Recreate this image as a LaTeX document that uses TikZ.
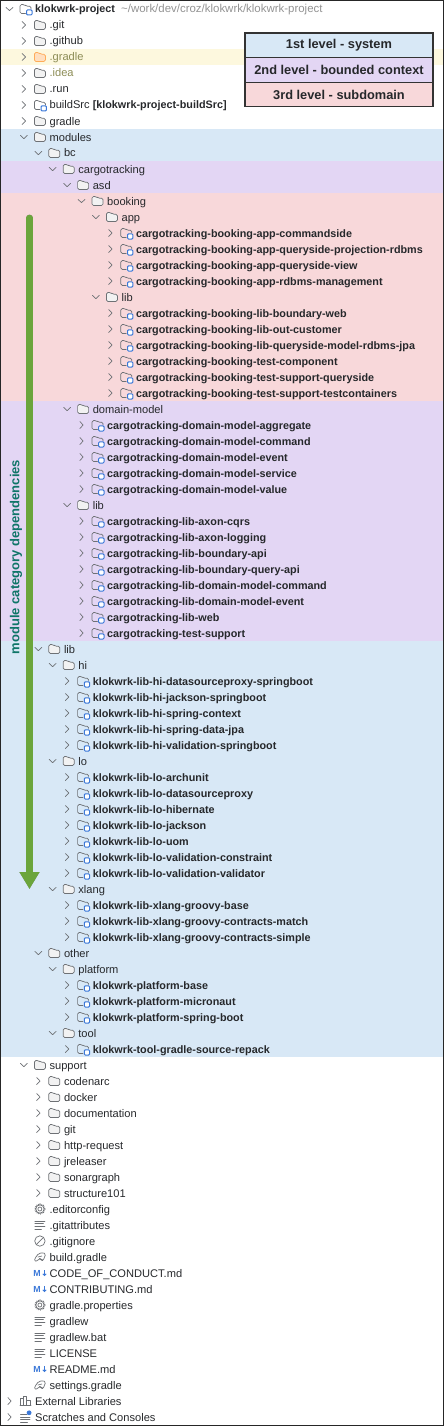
\documentclass[tikz,border=0pt]{standalone}
\usepackage{fontspec}
\setmainfont{Liberation Sans}
\usetikzlibrary{arrows.meta}
\definecolor{sysblue}{HTML}{D8E8F6}
\definecolor{bcpurple}{HTML}{E3D6F4}
\definecolor{subpink}{HTML}{F8D8DA}
\definecolor{ignyellow}{HTML}{FDF8DE}
\definecolor{inktext}{HTML}{26282B}
\definecolor{inkicon}{HTML}{6E7175}
\definecolor{badgeblue}{HTML}{3B78D8}
\definecolor{olive}{HTML}{8C8C55}
\definecolor{arrowgreen}{HTML}{6BA53B}
\definecolor{labelteal}{HTML}{0E7568}

\tikzset{
  rowplain/.style={anchor=base west, inner sep=0pt, text=inktext, font=\fontsize{11.1}{13}\selectfont},
  rowbold/.style={rowplain, font=\fontsize{10.8}{13}\selectfont\bfseries},
  rowign/.style={rowplain, text=olive},
  rowdim/.style={rowplain, text=gray!85, font=\fontsize{11.45}{13}\selectfont},
  legendbox/.style={draw=black!80, line width=1.2pt, minimum width=188pt, minimum height=24.6pt,
    inner sep=0pt, font=\fontsize{12.8}{14}\selectfont\bfseries, text=inktext},
  iconline/.style={draw=inkicon, line width=0.7pt, line join=round, line cap=round},
  chev o/.pic={\draw [iconline] (-3.5,1.7) -- (0,-1.7) -- (3.5,1.7);},
  chev c/.pic={\draw [iconline] (-1.7,-3.5) -- (1.7,0) -- (-1.7,3.5);},
  chev n/.pic={},
  icon folder/.pic={
    \draw [iconline, fill=black!5, rounded corners=1.5pt]
      (-5.5,-4.5) -- (-5.5,4.5) -- (-1.2,4.5) -- (0.6,2.8) -- (5.5,2.8) -- (5.5,-4.5) -- cycle;},
  icon orange/.pic={
    \draw [iconline, draw=orange!65, fill=orange!25, rounded corners=1.5pt]
      (-5.5,-4.5) -- (-5.5,4.5) -- (-1.2,4.5) -- (0.6,2.8) -- (5.5,2.8) -- (5.5,-4.5) -- cycle;},
  icon module/.pic={
    \draw [iconline, rounded corners=1.5pt]
      (0,-4.5) -- (-5.5,-4.5) -- (-5.5,4.5) -- (-1.2,4.5) -- (0.6,2.8) -- (5.5,2.8) -- (5.5,0);
    \draw [draw=badgeblue, line width=1pt, fill=white, rounded corners=1pt] (1.2,-6) rectangle (6.5,-0.8);},
  icon gear/.pic={
    \draw [iconline, densely dotted, line width=1.6pt, line cap=butt] (0,0) circle (4.8);
    \draw [iconline] (0,0) circle (4.2);
    \draw [iconline] (0,0) circle (2);},
  icon lines/.pic={
    \draw [iconline] (-5,4) -- (5,4) (-5,1.3) -- (3.5,1.3) (-5,-1.3) -- (5,-1.3) (-5,-4) -- (1.5,-4);},
  icon ban/.pic={
    \draw [iconline] (0,0) circle (5.2);
    \draw [iconline] (-3.6,-3.6) -- (3.6,3.6);},
  icon gradle/.pic={
    \draw [iconline, rounded corners=1.5pt]
      (-6,-4) -- (-3.5,1) -- (-1,3.5) -- (3,4.5) -- (6,3) -- (4.5,0) -- (3.5,-3.5)
      -- (1.5,-3.5) -- (1,-1.5) -- (-1,-1.5) -- (-2,-4) -- cycle;
    \draw [iconline] (-2,0) -- (2,1);},
  icon md/.pic={
    \node [inner sep=0pt, text=badgeblue, font=\fontsize{8.8}{9}\selectfont\bfseries] (-tag) at (-2.8,0) {M};
    \draw [draw=badgeblue, line width=0.9pt, -{Straight Barb[length=1.6pt,width=3.4pt]}] (4.6,3) -- (4.6,-3);},
  icon lib/.pic={
    \draw [iconline] (-5.5,-4.5) -- (5.5,-4.5);
    \draw [iconline] (-5,-4.5) rectangle (-2,3) (-2,-4.5) rectangle (1,5) (1,-4.5) rectangle (5,0.5);},
  icon scratch/.pic={
    \draw [iconline] (-5,2.5) -- (1.5,2.5) (-5,0) -- (4.5,0) (-5,-2.5) -- (4.5,-2.5) (-5,-5) -- (2,-5);
    \fill [badgeblue] (3.6,4.2) circle (2.4);},
}

\begin{document}
\begin{tikzpicture}[x=1pt, y=-1pt, >=stealth]

\useasboundingbox (0,0) rectangle (444,1426);

% coloured levels
\fill [ignyellow] (0,49) rectangle (444,65);
\foreach \a/\b/\c in {129/161/sysblue,161/193/bcpurple,193/401/subpink,401/641/bcpurple,641/1057/sysblue}
  \fill [\c] (0,\a) rectangle (444,\b);

% project tree: depth/chevron/icon/style/text
\foreach \d/\c/\i/\s/\t [count=\y from 0] in {
  0/o/module/rowbold/{klokwrk-project},
  1/c/folder/rowplain/{.git},
  1/c/folder/rowplain/{.github},
  1/c/orange/rowign/{.gradle},
  1/c/folder/rowign/{.idea},
  1/c/folder/rowplain/{.run},
  1/c/module/rowplain/{buildSrc \fontsize{10.8}{13}\selectfont\bfseries [klokwrk-project-buildSrc]},
  1/c/folder/rowplain/{gradle},
  1/o/folder/rowplain/{modules},
  2/o/folder/rowplain/{bc},
  3/o/folder/rowplain/{cargotracking},
  4/o/folder/rowplain/{asd},
  5/o/folder/rowplain/{booking},
  6/o/folder/rowplain/{app},
  7/c/module/rowbold/{cargotracking-booking-app-commandside},
  7/c/module/rowbold/{cargotracking-booking-app-queryside-projection-rdbms},
  7/c/module/rowbold/{cargotracking-booking-app-queryside-view},
  7/c/module/rowbold/{cargotracking-booking-app-rdbms-management},
  6/o/folder/rowplain/{lib},
  7/c/module/rowbold/{cargotracking-booking-lib-boundary-web},
  7/c/module/rowbold/{cargotracking-booking-lib-out-customer},
  7/c/module/rowbold/{cargotracking-booking-lib-queryside-model-rdbms-jpa},
  7/c/module/rowbold/{cargotracking-booking-test-component},
  7/c/module/rowbold/{cargotracking-booking-test-support-queryside},
  7/c/module/rowbold/{cargotracking-booking-test-support-testcontainers},
  4/o/folder/rowplain/{domain-model},
  5/c/module/rowbold/{cargotracking-domain-model-aggregate},
  5/c/module/rowbold/{cargotracking-domain-model-command},
  5/c/module/rowbold/{cargotracking-domain-model-event},
  5/c/module/rowbold/{cargotracking-domain-model-service},
  5/c/module/rowbold/{cargotracking-domain-model-value},
  4/o/folder/rowplain/{lib},
  5/c/module/rowbold/{cargotracking-lib-axon-cqrs},
  5/c/module/rowbold/{cargotracking-lib-axon-logging},
  5/c/module/rowbold/{cargotracking-lib-boundary-api},
  5/c/module/rowbold/{cargotracking-lib-boundary-query-api},
  5/c/module/rowbold/{cargotracking-lib-domain-model-command},
  5/c/module/rowbold/{cargotracking-lib-domain-model-event},
  5/c/module/rowbold/{cargotracking-lib-web},
  5/c/module/rowbold/{cargotracking-test-support},
  2/o/folder/rowplain/{lib},
  3/o/folder/rowplain/{hi},
  4/c/module/rowbold/{klokwrk-lib-hi-datasourceproxy-springboot},
  4/c/module/rowbold/{klokwrk-lib-hi-jackson-springboot},
  4/c/module/rowbold/{klokwrk-lib-hi-spring-context},
  4/c/module/rowbold/{klokwrk-lib-hi-spring-data-jpa},
  4/c/module/rowbold/{klokwrk-lib-hi-validation-springboot},
  3/o/folder/rowplain/{lo},
  4/c/module/rowbold/{klokwrk-lib-lo-archunit},
  4/c/module/rowbold/{klokwrk-lib-lo-datasourceproxy},
  4/c/module/rowbold/{klokwrk-lib-lo-hibernate},
  4/c/module/rowbold/{klokwrk-lib-lo-jackson},
  4/c/module/rowbold/{klokwrk-lib-lo-uom},
  4/c/module/rowbold/{klokwrk-lib-lo-validation-constraint},
  4/c/module/rowbold/{klokwrk-lib-lo-validation-validator},
  3/o/folder/rowplain/{xlang},
  4/c/module/rowbold/{klokwrk-lib-xlang-groovy-base},
  4/c/module/rowbold/{klokwrk-lib-xlang-groovy-contracts-match},
  4/c/module/rowbold/{klokwrk-lib-xlang-groovy-contracts-simple},
  2/o/folder/rowplain/{other},
  3/o/folder/rowplain/{platform},
  4/c/module/rowbold/{klokwrk-platform-base},
  4/c/module/rowbold/{klokwrk-platform-micronaut},
  4/c/module/rowbold/{klokwrk-platform-spring-boot},
  3/o/folder/rowplain/{tool},
  4/c/module/rowbold/{klokwrk-tool-gradle-source-repack},
  1/o/folder/rowplain/{support},
  2/c/folder/rowplain/{codenarc},
  2/c/folder/rowplain/{docker},
  2/c/folder/rowplain/{documentation},
  2/c/folder/rowplain/{git},
  2/c/folder/rowplain/{http-request},
  2/c/folder/rowplain/{jreleaser},
  2/c/folder/rowplain/{sonargraph},
  2/c/folder/rowplain/{structure101},
  1/n/gear/rowplain/{.editorconfig},
  1/n/lines/rowplain/{.gitattributes},
  1/n/ban/rowplain/{.gitignore},
  1/n/gradle/rowplain/{build.gradle},
  1/n/md/rowplain/{CODE\_OF\_CONDUCT.md},
  1/n/md/rowplain/{CONTRIBUTING.md},
  1/n/gear/rowplain/{gradle.properties},
  1/n/lines/rowplain/{gradlew},
  1/n/lines/rowplain/{gradlew.bat},
  1/n/lines/rowplain/{LICENSE},
  1/n/md/rowplain/{README.md},
  1/n/gradle/rowplain/{settings.gradle},
  0/c/lib/rowplain/{External Libraries},
  0/c/scratch/rowplain/{Scratches and Consoles}}
{
  \node [\s] (row-\y) at (35+14.4*\d,13+16*\y) {\t};
  \pic [yscale=-1] (icon-\y) at (25.5+14.4*\d,9+16*\y) {icon \i};
  \pic [yscale=-1] (chev-\y) at (9.5+14.4*\d,9+16*\y) {chev \c};
}

\node [rowdim] (rootpath) at (121,13) {\textasciitilde/work/dev/croz/klokwrk/klokwrk-project};

% legend
\foreach \l/\c [count=\y from 0] in {1st level - system/sysblue,2nd level - bounded context/bcpurple,3rd level - subdomain/subpink}
  \node [legendbox, fill=\c] (legend-\y) at (339,45.3+24.6*\y) {\l};

% dependency arrow
\coordinate (arrow-top) at (29.5,218);
\coordinate (arrow-tip) at (29.5,889);
\draw [black, opacity=0.35, line width=7pt, line cap=round, -{Triangle[width=19pt,length=17pt]}, shift={(2,1.5)}] (arrow-top) -- (arrow-tip);
\draw [arrowgreen, line width=6.5pt, line cap=round, -{Triangle[width=19pt,length=17pt]}] (arrow-top) -- (arrow-tip);
\node [rotate=90, inner sep=0pt, text=labelteal, font=\fontsize{13}{14}\selectfont\bfseries] (arrow-label) at (16,557) {module category dependencies};

% frame
\draw [black!85, line width=1.4pt] (0,0) rectangle (444,1426);

\end{tikzpicture}
\end{document}
